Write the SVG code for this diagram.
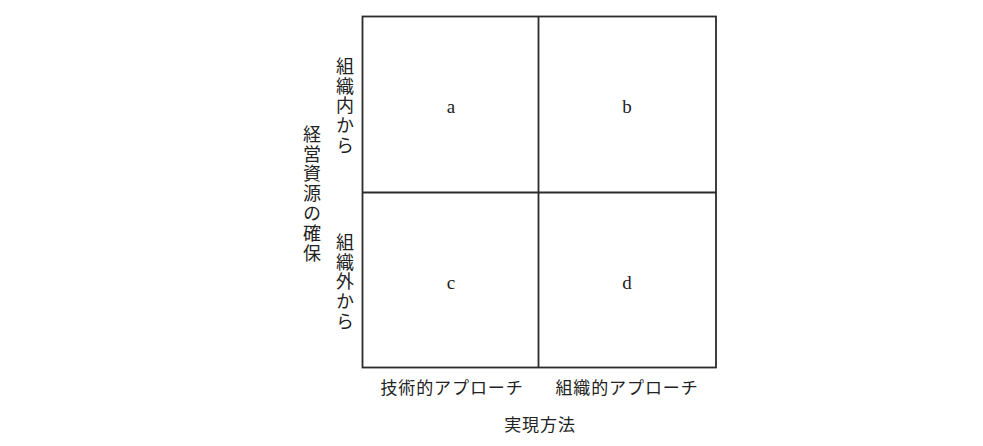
<svg xmlns="http://www.w3.org/2000/svg" width="983" height="446" viewBox="0 0 983 446">
<style>
.ln{stroke:#2b2b2b;stroke-width:1.8;fill:none}
.jp{font-family:"Noto Sans CJK JP","Noto Sans",sans-serif;fill:#222}
.v{writing-mode:vertical-rl;font-size:18px;letter-spacing:1.8px}
.h{font-size:17px;text-anchor:middle;letter-spacing:0.9px}
.lt{font-family:"Liberation Serif",serif;font-size:19px;fill:#222;text-anchor:middle}
</style>
<rect width="983" height="446" fill="#fff"/>
<g id="grid">
<rect class="ln" x="362.5" y="16.5" width="353.5" height="351"/>
<line class="ln" x1="538.5" y1="16.5" x2="538.5" y2="367.5"/>
<line class="ln" x1="362.5" y1="192.5" x2="716" y2="192.5"/>
</g>
<g id="cell-a"><text class="lt" x="451" y="113">a</text></g>
<g id="cell-b"><text class="lt" x="627" y="113">b</text></g>
<g id="cell-c"><text class="lt" x="451" y="289">c</text></g>
<g id="cell-d"><text class="lt" x="627" y="289">d</text></g>
<g id="label-inside"><text class="jp v" x="345" y="57">組織内から</text></g>
<g id="label-outside"><text class="jp v" x="345" y="233">組織外から</text></g>
<g id="label-resources"><text class="jp v" x="312" y="125">経営資源の確保</text></g>
<g id="label-tech"><text class="jp h" x="452" y="394">技術的アプローチ</text></g>
<g id="label-org"><text class="jp h" x="627" y="394">組織的アプローチ</text></g>
<g id="label-method"><text class="jp h" x="540" y="431">実現方法</text></g>
</svg>
